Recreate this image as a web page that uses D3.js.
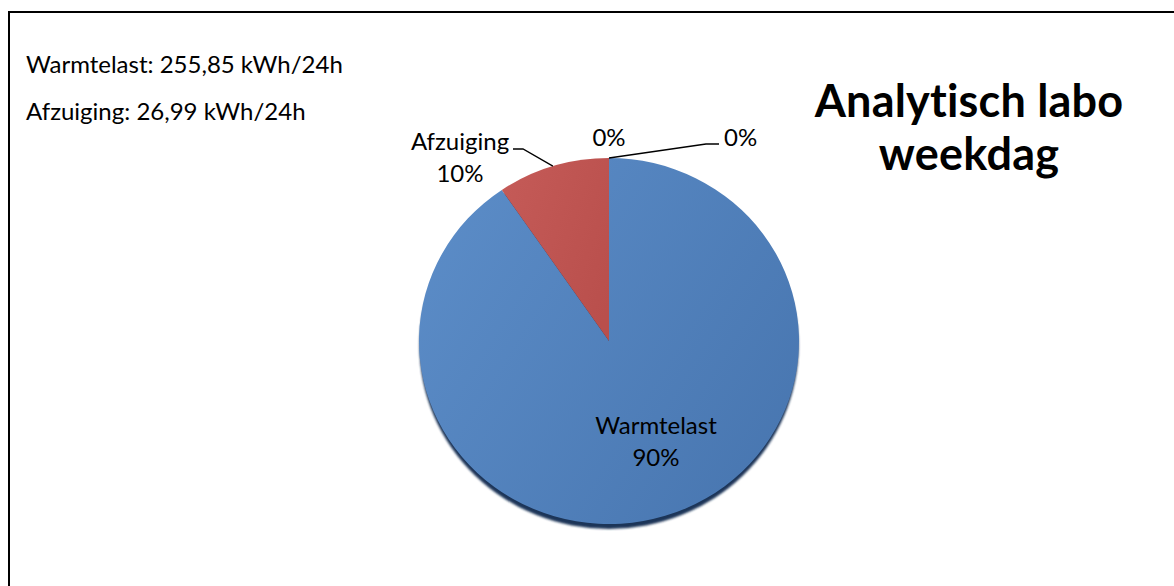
<!DOCTYPE html>
<html>
<head>
<meta charset="utf-8">
<script src="https://cdn.jsdelivr.net/npm/d3@7"></script>
<style>
  html, body { margin: 0; padding: 0; background: #fff; }
  svg { display: block; }
  text { font-family: "Lato", "Open Sans", sans-serif; fill: #000;
         font-variant-ligatures: none; font-feature-settings: "liga" 0, "clig" 0, "dlig" 0; }
</style>
</head>
<body>
<svg id="chart" width="1174" height="586"></svg>
<script>
// Energy split for the analytical lab on a weekday
const categories = ["Warmtelast", "Afzuiging", "", ""];
const values = [255.85, 26.99, 0, 0];
const infoLines = ["Warmtelast: 255,85 kWh/24h", "Afzuiging: 26,99 kWh/24h"];
const titleLines = ["Analytisch labo", "weekdag"];

const W = 1174, H = 586;
const svg = d3.select("#chart");

// frame around the chart area (runs off the right and bottom edge)
svg.append("path")
  .attr("d", `M9,${H + 5} L9,12 L${W + 5},12`)
  .attr("fill", "none").attr("stroke", "#000").attr("stroke-width", 2);

const fs = 24;

// text box with totals
svg.append("g").selectAll("text").data(infoLines).join("text")
  .attr("x", 26).attr("y", (d, i) => 73 + i * 47)
  .attr("font-size", fs)
  .text(d => d);

// title
svg.append("g").selectAll("text").data(titleLines).join("text")
  .attr("x", 969).attr("y", (d, i) => 117 + i * 53)
  .attr("text-anchor", "middle")
  .attr("font-size", 45).attr("font-weight", "bold")
  .attr("letter-spacing", "0.2px")
  .text(d => d);

// pie geometry: slightly tilted disc
const cx = 609, cy = 341, rx = 190, ry = 183, depth = 5;
const defs = svg.append("defs");

const gBlue = defs.append("linearGradient").attr("id", "gBlue")
  .attr("x1", "0%").attr("y1", "20%").attr("x2", "100%").attr("y2", "80%");
gBlue.append("stop").attr("offset", "0%").attr("stop-color", "#5B8CC7");
gBlue.append("stop").attr("offset", "100%").attr("stop-color", "#4876B0");

const gRed = defs.append("linearGradient").attr("id", "gRed")
  .attr("x1", "0%").attr("y1", "20%").attr("x2", "100%").attr("y2", "80%");
gRed.append("stop").attr("offset", "0%").attr("stop-color", "#C45A57");
gRed.append("stop").attr("offset", "100%").attr("stop-color", "#B94F4C");

defs.append("filter").attr("id", "soft")
  .append("feGaussianBlur").attr("stdDeviation", 0.8);

const fills = ["url(#gBlue)", "url(#gRed)", "#9BBB59", "#8064A2"];

const pie = d3.pie().sort(null).value(d => d)(values);
const arc = d3.arc().innerRadius(0).outerRadius(rx);

// side of the disc, visible along the lower rim
svg.append("ellipse")
  .attr("cx", cx).attr("cy", cy + depth)
  .attr("rx", rx - 0.5).attr("ry", ry)
  .attr("fill", "#1F3658")
  .attr("filter", "url(#soft)");

const pieG = svg.append("g")
  .attr("transform", `translate(${cx},${cy}) scale(1,${ry / rx})`);

pieG.selectAll("path").data(pie).join("path")
  .attr("d", arc)
  .attr("fill", (d, i) => fills[i]);

// point on the (flattened) rim at a given pie angle
function rim(angle, f = 1) {
  return [cx + rx * f * Math.sin(angle), cy - ry * f * Math.cos(angle)];
}

const total = d3.sum(values);
const pct = v => Math.round(v / total * 100) + "%";

// Warmtelast: inside label
{
  const g = svg.append("g");
  g.append("text").attr("x", cx + 47).attr("y", cy + 93)
    .attr("text-anchor", "middle").attr("font-size", fs).text(categories[0]);
  g.append("text").attr("x", cx + 47).attr("y", cy + 125)
    .attr("text-anchor", "middle").attr("font-size", fs).text(pct(values[0]));
}

// Afzuiging: outside label with leader
{
  const d = pie[1];
  const p = rim((d.startAngle + d.endAngle) / 2);
  svg.append("path")
    .attr("d", d3.line()([[cx - 96, cy - 192], [cx - 86, cy - 192], p]))
    .attr("fill", "none").attr("stroke", "#000").attr("stroke-width", 1.3);
  svg.append("text").attr("x", cx - 149).attr("y", cy - 191)
    .attr("text-anchor", "middle").attr("font-size", fs).text(categories[1]);
  svg.append("text").attr("x", cx - 149).attr("y", cy - 159)
    .attr("text-anchor", "middle").attr("font-size", fs).text(pct(values[1]));
}

// zero slices at the top of the disc
{
  svg.append("text").attr("x", cx).attr("y", cy - 195)
    .attr("text-anchor", "middle").attr("font-size", fs).text(pct(values[2]));
  const p = rim(pie[3].startAngle);
  svg.append("path")
    .attr("d", d3.line()([p, [cx + 97, cy - 197], [cx + 110, cy - 197]]))
    .attr("fill", "none").attr("stroke", "#000").attr("stroke-width", 1.3);
  svg.append("text").attr("x", cx + 115).attr("y", cy - 195)
    .attr("text-anchor", "start").attr("font-size", fs).text(pct(values[3]));
}
</script>
</body>
</html>
